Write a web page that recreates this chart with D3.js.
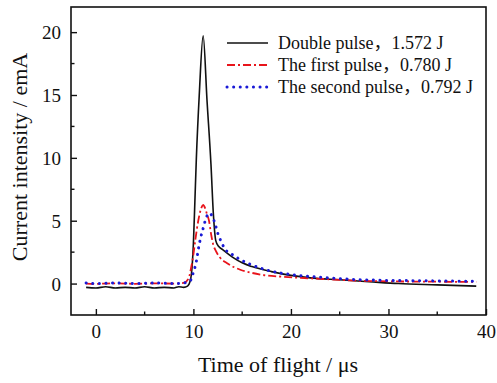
<!DOCTYPE html>
<html>
<head>
<meta charset="utf-8">
<script src="https://cdn.jsdelivr.net/npm/d3@7"></script>
<style>
  body { margin: 0; background: #fff; }
</style>
</head>
<body>
<div id="chart"></div>
<script>
// time of flight (us) and current intensity (mA)
const doubleT = [-1, 0, 1, 2, 3, 4, 5, 6, 7, 8, 8.5, 9, 9.4, 9.7, 9.85, 10, 10.15, 10.3, 10.6, 11, 11.4, 11.8, 12.05, 12.3, 12.6, 13, 14, 15, 16, 18, 20, 22, 25, 28, 31, 35, 39];
const doubleV = [-0.3, -0.35, -0.25, -0.35, -0.3, -0.35, -0.25, -0.35, -0.3, -0.35, -0.25, -0.3, -0.2, 0.3, 1.2, 3.2, 6.5, 9.9, 15, 19.7, 14.5, 9.5, 5.5, 3.4, 2.95, 2.7, 2.1, 1.65, 1.35, 0.95, 0.65, 0.45, 0.3, 0.15, 0.0, -0.1, -0.2];

const firstT = [-1, 0, 2, 4, 6, 8, 9, 9.5, 9.8, 10, 10.2, 10.5, 10.8, 11, 11.2, 11.4, 11.6, 11.8, 12, 12.3, 12.7, 13.5, 14.8, 16, 17, 19, 21, 23, 26, 30, 35, 39];
const firstV = [0.0, -0.02, 0.02, -0.02, 0.02, 0.0, 0.05, 0.4, 1.4, 2.3, 3.5, 5.0, 6.0, 6.25, 6.0, 5.5, 5.0, 4.0, 3.2, 2.6, 2.1, 1.6, 1.1, 0.85, 0.7, 0.55, 0.45, 0.38, 0.25, 0.18, 0.15, 0.13];

const secondT = [-1, 0, 2, 4, 6, 8, 9, 9.65, 10, 10.3, 10.5, 10.7, 11, 11.3, 11.6, 11.9, 12.2, 12.5, 12.7, 13.2, 14, 14.6, 16.1, 17.9, 20, 23, 26.5, 30, 33, 36, 39];
const secondV = [0.05, 0.0, 0.05, 0.0, 0.05, 0.0, 0.05, 0.2, 0.9, 1.75, 2.7, 3.5, 4.4, 5.2, 5.6, 5.4, 4.8, 4.0, 3.6, 2.8, 2.3, 2.0, 1.45, 1.0, 0.72, 0.5, 0.33, 0.25, 0.23, 0.2, 0.18];

const legendLabels = ['Double pulse\uFF0C1.572 J', 'The first pulse\uFF0C0.780 J', 'The second pulse\uFF0C0.792 J'];
const xTicks = [0, 10, 20, 30, 40];
const yTicks = [0, 5, 10, 15, 20];

const w = 497;
const h = 383;
const margin = { top: 7, right: 11, bottom: 68, left: 71 };
const serif = "'Liberation Serif', 'Noto Sans CJK SC'";

const series = [
  { t: doubleT, v: doubleV, color: '#111', dash: null, width: 1.6 },
  { t: firstT, v: firstV, color: '#e8141b', dash: '8,3,2,3', width: 1.8 },
  { t: secondT, v: secondV, color: '#1a1ad6', dash: '0.1,6.5', width: 3, cap: 'round' },
];

const svg = d3
  .select('#chart')
  .append('svg')
  .attr('width', w)
  .attr('height', h);

const xScale = d3.scaleLinear().domain([-2.55, 40]).range([margin.left, w - margin.right]);
const yScale = d3.scaleLinear().domain([-2.5, 22]).range([h - margin.bottom, margin.top]);

// lines
const line = d3
  .line()
  .x((d) => xScale(d[0]))
  .y((d) => yScale(d[1]))
  .curve(d3.curveMonotoneX);

series.forEach((s) => {
  const pts = s.t.map((t, i) => [t, s.v[i]]);
  svg
    .append('path')
    .datum(pts)
    .attr('fill', 'none')
    .attr('stroke', s.color)
    .attr('stroke-width', s.width)
    .attr('stroke-dasharray', s.dash)
    .attr('stroke-linecap', s.cap || 'butt')
    .attr('d', line);
});

// axes with inward ticks
const xAxis = d3.axisBottom(xScale).tickValues(xTicks).tickSizeInner(-6).tickSizeOuter(0).tickPadding(10);
const yAxis = d3.axisLeft(yScale).tickValues(yTicks).tickSizeInner(-6).tickSizeOuter(0).tickPadding(10);

const gx = svg
  .append('g')
  .attr('transform', 'translate(0,' + (h - margin.bottom) + ')')
  .call(xAxis);
const gy = svg
  .append('g')
  .attr('transform', 'translate(' + margin.left + ',0)')
  .call(yAxis);

[gx, gy].forEach((g) => {
  g.select('.domain').remove();
  g.selectAll('line').attr('stroke', '#111').attr('stroke-width', 1.4);
  g.selectAll('text')
    .attr('fill', '#111')
    .style('font-family', serif)
    .style('font-size', '19px');
});
gy.selectAll('text').attr('dy', '0.35em');

// minor ticks
svg
  .append('g')
  .selectAll('line')
  .data([5, 15, 25, 35])
  .enter()
  .append('line')
  .attr('x1', (d) => xScale(d))
  .attr('x2', (d) => xScale(d))
  .attr('y1', h - margin.bottom)
  .attr('y2', h - margin.bottom - 3.5)
  .attr('stroke', '#111')
  .attr('stroke-width', 1.4);

svg
  .append('g')
  .selectAll('line')
  .data([2.5, 7.5, 12.5, 17.5])
  .enter()
  .append('line')
  .attr('x1', margin.left)
  .attr('x2', margin.left + 3.5)
  .attr('y1', (d) => yScale(d))
  .attr('y2', (d) => yScale(d))
  .attr('stroke', '#111')
  .attr('stroke-width', 1.4);

// frame
svg
  .append('rect')
  .attr('x', margin.left)
  .attr('y', margin.top)
  .attr('width', w - margin.left - margin.right)
  .attr('height', h - margin.top - margin.bottom)
  .attr('fill', 'none')
  .attr('stroke', '#111')
  .attr('stroke-width', 1.6);

// axis titles
svg
  .append('text')
  .attr('x', 278)
  .attr('y', 372)
  .attr('text-anchor', 'middle')
  .attr('fill', '#111')
  .style('font-family', serif)
  .style('font-size', '22px')
  .text('Time of flight / \u03BCs');

svg
  .append('text')
  .attr('transform', 'translate(27,' + 157 + ') rotate(-90)')
  .attr('text-anchor', 'middle')
  .attr('fill', '#111')
  .style('font-family', serif)
  .style('font-size', '22px')
  .text('Current intensity / emA');

// legend
const legend = svg.append('g').attr('transform', 'translate(227,43)');
series.forEach((s, i) => {
  const row = legend.append('g').attr('transform', 'translate(0,' + i * 22 + ')');
  row
    .append('line')
    .attr('x1', 0)
    .attr('x2', 41)
    .attr('stroke', s.color)
    .attr('stroke-width', s.width)
    .attr('stroke-dasharray', s.dash)
    .attr('stroke-linecap', s.cap || 'butt');
  row
    .append('text')
    .attr('x', 51)
    .attr('dy', '0.35em')
    .attr('fill', '#111')
    .style('font-family', serif)
    .style('font-size', '18px')
    .text(legendLabels[i]);
});
</script>
</body>
</html>
